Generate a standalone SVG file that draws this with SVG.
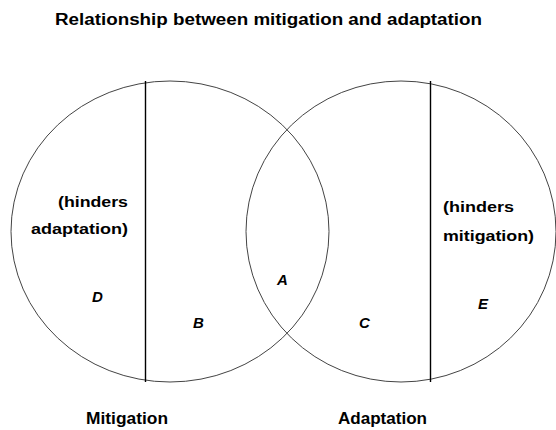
<svg xmlns="http://www.w3.org/2000/svg" width="556" height="430" viewBox="0 0 556 430">
<style>
.c{fill:none;stroke:#444;stroke-width:1}
.d{stroke:#000;stroke-width:1.4}
text{font-family:"Liberation Sans",Arial,sans-serif;fill:#000;font-weight:bold}
.t{font-size:16px}
.n{font-size:15px}
.l{font-size:15px;font-style:italic}
</style>
<rect width="556" height="430" fill="#fff"/>
<text id="title" class="t" x="55" y="25" textLength="427" lengthAdjust="spacingAndGlyphs">Relationship between mitigation and adaptation</text>
<g id="mitigation">
<ellipse class="c" cx="170" cy="231.5" rx="159" ry="150.5"/>
<line class="d" x1="145.5" y1="81" x2="145.5" y2="382"/>
<text class="n" x="128" y="207" text-anchor="end" textLength="70" lengthAdjust="spacingAndGlyphs">(hinders</text>
<text class="n" x="128" y="234" text-anchor="end" textLength="97" lengthAdjust="spacingAndGlyphs">adaptation)</text>
<text class="l" x="92" y="302">D</text>
<text class="l" x="193" y="328">B</text>
<text class="t" x="86" y="424" textLength="82" lengthAdjust="spacingAndGlyphs">Mitigation</text>
</g>
<g id="adaptation">
<ellipse class="c" cx="401" cy="231.5" rx="155" ry="150.5"/>
<line class="d" x1="430.5" y1="81" x2="430.5" y2="382"/>
<text class="n" x="443" y="212" textLength="71" lengthAdjust="spacingAndGlyphs">(hinders</text>
<text class="n" x="443" y="241" textLength="91" lengthAdjust="spacingAndGlyphs">mitigation)</text>
<text class="l" x="359" y="328">C</text>
<text class="l" x="478" y="309">E</text>
<text class="t" x="338" y="424" textLength="89" lengthAdjust="spacingAndGlyphs">Adaptation</text>
</g>
<g id="overlap">
<text class="l" x="277" y="285">A</text>
</g>
</svg>
